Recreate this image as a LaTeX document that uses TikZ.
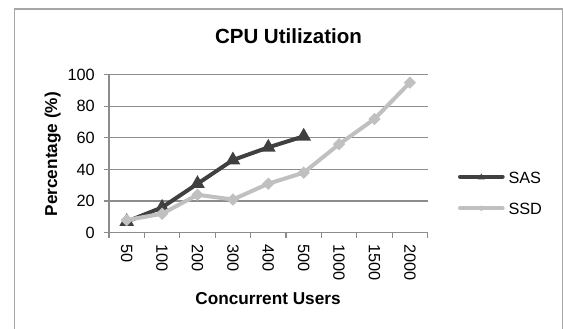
\documentclass[tikz,border=0pt]{standalone}
\usepackage{fontspec}
\setmainfont{Liberation Sans}
\usetikzlibrary{shapes.geometric}
\definecolor{sasgray}{HTML}{404040}
\definecolor{ssdgray}{HTML}{C0C0C0}
\definecolor{gridgray}{HTML}{8C8C8C}
\definecolor{framegray}{HTML}{A6A6A6}
\tikzset{
  grid line/.style={gridgray,line width=1.2pt},
  sas line/.style={sasgray,line width=4pt,line join=round,line cap=round},
  ssd line/.style={ssdgray,line width=4pt,line join=round,line cap=round},
  sas mark/.style={regular polygon,regular polygon sides=3,fill=sasgray,inner sep=0pt,minimum size=17pt},
  ssd mark/.style={diamond,fill=ssdgray,inner sep=0pt,minimum size=12.5pt},
  tick label/.style={inner sep=0pt,font=\fontsize{16.3}{18}\selectfont},
  axis label/.style={inner sep=0pt,font=\bfseries\fontsize{17.2}{20}\selectfont}
}
\begin{document}
\begin{tikzpicture}[x=1pt,y=1pt]
  \useasboundingbox (0,0) rectangle (563,329);
  \draw[framegray,line width=1.2pt] (14.3,-5) rectangle (562.3,320);
  \node[inner sep=0pt,font=\bfseries\fontsize{20.5}{24}\selectfont,anchor=base] (title) at (288.5,285) {CPU Utilization};
  \node[axis label,anchor=base,rotate=90] (ylabel) at (57,174.8) {Percentage (\%)};
  \node[axis label,anchor=base] (xlabel) at (268,24) {Concurrent Users};
  \begin{scope}[shift={(109,96.3)},x=35.4pt,y=1.58pt]
    % grid, axes and ticks
    \foreach \v in {20,40,...,100} \draw[grid line] (0,\v) -- (9,\v);
    \draw[grid line] (0,0) -- (0,100);
    \draw[grid line] (0,0) -- (9,0);
    \foreach \v in {0,20,...,100} {
      \draw[grid line] ([xshift=-5pt]0,\v) -- (0,\v);
      \node[tick label,anchor=east] (y\v) at ([xshift=-14pt]0,\v) {\v};
    }
    \foreach \i in {0,...,9} \draw[grid line] (\i,0) -- ([yshift=-5pt]\i,0);
    \foreach \t [count=\i] in {50,100,200,300,400,500,1000,1500,2000}
      \node[tick label,rotate=-90,anchor=west] (x\i) at ([yshift=-11.6pt]\i-0.5,0) {\t};
    % data
    \foreach \v [count=\i] in {7,16,31,46,54,61} \coordinate (sas\i) at (\i-0.5,\v);
    \foreach \v [count=\i] in {8,12,24,21,31,38,56,72,95} \coordinate (ssd\i) at (\i-0.5,\v);
    \draw[sas line] (sas1) \foreach \i in {2,...,6} {-- (sas\i)};
    \foreach \i in {1,...,6} \node[sas mark] (sasm\i) at (sas\i) {};
    \draw[ssd line] (ssd1) \foreach \i in {2,...,9} {-- (ssd\i)};
    \foreach \i in {1,...,9} \node[ssd mark] (ssdm\i) at (ssd\i) {};
  \end{scope}
  % legend
  \coordinate (sasA) at (460,152.3); \coordinate (sasB) at (502.7,152.3);
  \coordinate (ssdA) at (460,120.7); \coordinate (ssdB) at (502.7,120.7);
  \draw[sas line] (sasA) -- (sasB);
  \node[sas mark,minimum size=8pt] (saskey) at (481.3,151.5) {};
  \node[tick label,anchor=base west] (saslabel) at (508.3,145.7) {SAS};
  \draw[ssd line] (ssdA) -- (ssdB);
  \node[ssd mark,minimum size=6pt] (ssdkey) at (481.3,120.7) {};
  \node[tick label,anchor=base west] (ssdlabel) at (508.3,114) {SSD};
\end{tikzpicture}
\end{document}
